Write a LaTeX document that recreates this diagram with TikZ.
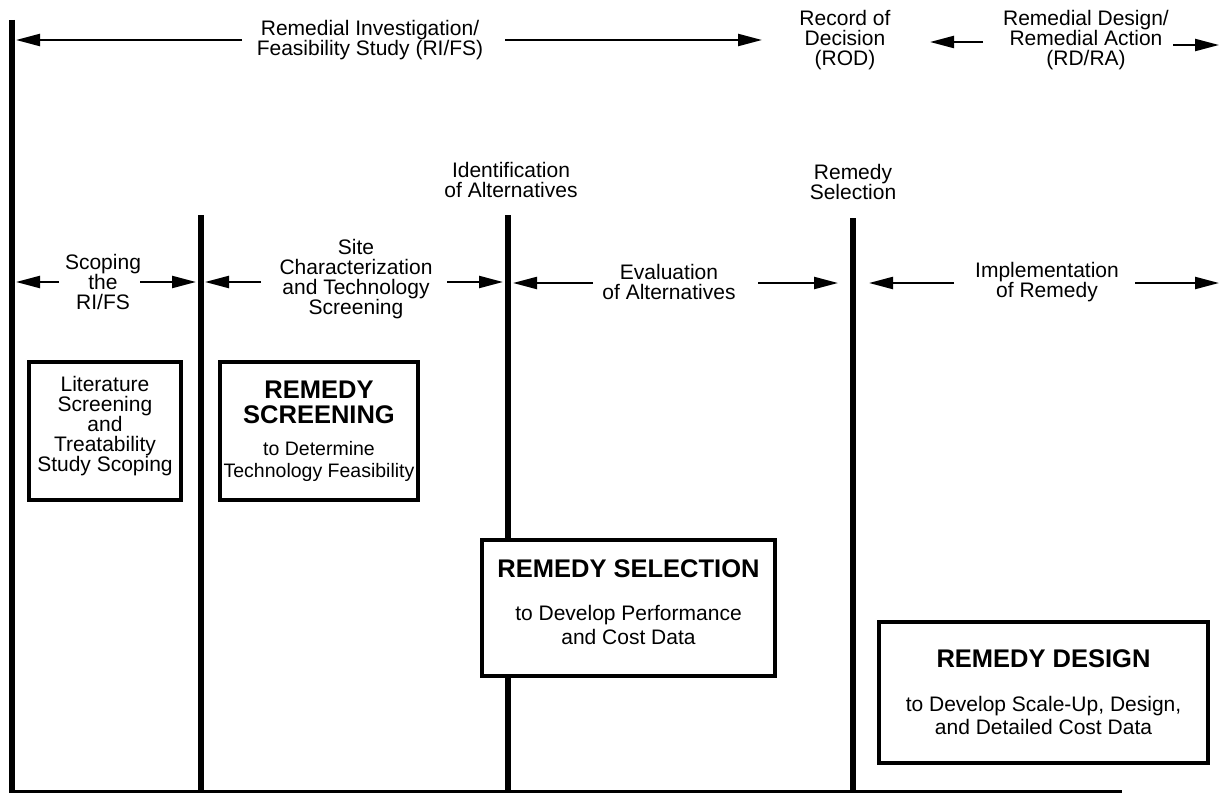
\documentclass[tikz,border=0pt]{standalone}
\usepackage{fontspec}
\setmainfont{Liberation Sans}
\usetikzlibrary{arrows.meta}
\tikzset{
  bar/.style={line width=6pt},
  baseline line/.style={line width=3pt},
  arr/.style={line width=2.2pt,-{Triangle[length=24pt,width=12pt]}},
  lbl/.style={align=center,inner sep=0pt,font=\fontsize{21}{20}\selectfont},
  stagebox/.style={draw,line width=4pt,fill=white,inner sep=0pt},
}
\newcommand{\ttl}{\fontsize{25.5}{20}\selectfont\bfseries}
\begin{document}
\begin{tikzpicture}[x=1pt,y=-1pt]
\useasboundingbox[fill=white] (0,0) rectangle (1220,797);

% vertical bars
\coordinate (b1t) at (12,20);   \coordinate (b1b) at (12,792);
\coordinate (b2t) at (201,215); \coordinate (b2b) at (201,792);
\coordinate (b3t) at (508,215); \coordinate (b3b) at (508,792);
\coordinate (b4t) at (853,218); \coordinate (b4b) at (853,792);
\coordinate (bl) at (9,791); \coordinate (br) at (1122,791);
\draw[bar] (b1t) -- (b1b);
\draw[bar] (b2t) -- (b2b);
\draw[bar] (b3t) -- (b3b);
\draw[bar] (b4t) -- (b4b);
\draw[baseline line] (bl) -- (br);

% top labels
\node[lbl] (rifs) at (370,40) {Remedial Investigation/\\Feasibility Study (RI/FS)};
\node[lbl] (rod) at (845,40) {Record of\\Decision\\(ROD)};
\node[lbl] (rdra) at (1086,40) {Remedial Design/\\Remedial Action\\(RD/RA)};
\node[lbl] (ida) at (511,180) {Identification\\of Alternatives};
\node[lbl] (rsel) at (853,182) {Remedy\\Selection};

% top arrows
\coordinate (t1) at (242,40);  \coordinate (h1) at (16,40);
\coordinate (t2) at (505,40);  \coordinate (h2) at (762,40);
\coordinate (t3) at (983,42);  \coordinate (h3) at (930,42);
\coordinate (t4) at (1173,45); \coordinate (h4) at (1219,45);
\draw[arr] (t1) -- (h1);
\draw[arr] (t2) -- (h2);
\draw[arr] (t3) -- (h3);
\draw[arr] (t4) -- (h4);

% middle labels
\node[lbl] (scope) at (103,282) {Scoping\\the\\RI/FS};
\node[lbl] (site) at (356,279) {Site\\Characterization\\and Technology\\Screening};
\node[lbl] (eval) at (669,282) {Evaluation\\of Alternatives};
\node[lbl] (impl) at (1047,282) {Implementation\\of Remedy};

% middle arrows
\coordinate (s1) at (59,282);   \coordinate (e1) at (16,282);
\coordinate (s2) at (140,282);  \coordinate (e2) at (196,282);
\coordinate (s3) at (261,282);  \coordinate (e3) at (205,282);
\coordinate (s4) at (447,282);  \coordinate (e4) at (503,282);
\coordinate (s5) at (593,283);  \coordinate (e5) at (513,283);
\coordinate (s6) at (758,283);  \coordinate (e6) at (838,283);
\coordinate (s7) at (954,283);  \coordinate (e7) at (869,283);
\coordinate (s8) at (1135,283); \coordinate (e8) at (1219,283);
\draw[arr] (s1) -- (e1);
\draw[arr] (s2) -- (e2);
\draw[arr] (s3) -- (e3);
\draw[arr] (s4) -- (e4);
\draw[arr] (s5) -- (e5);
\draw[arr] (s6) -- (e6);
\draw[arr] (s7) -- (e7);
\draw[arr] (s8) -- (e8);

% boxes
\node[stagebox,minimum width=152pt,minimum height=138pt] (lit) at (105,431) {};
\node[lbl] (litt) at (105,426)
  {Literature\\Screening\\and\\Treatability\\Study Scoping};

\node[stagebox,minimum width=198pt,minimum height=138pt] (scr) at (319,431) {};
\node[lbl] (scrt) at (319,431)
  {{\ttl REMEDY}\\[5pt]{\ttl SCREENING}\\[12pt]{\fontsize{19.5}{20}\selectfont to Determine}\\[2pt]{\fontsize{19.5}{20}\selectfont Technology Feasibility}};

\node[stagebox,minimum width=293pt,minimum height=136pt] (sel) at (628.5,608) {};
\node[lbl] (selt) at (628.5,602.5)
  {{\ttl REMEDY SELECTION}\\[23pt]to Develop Performance\\[4pt]and Cost Data};

\node[stagebox,minimum width=329pt,minimum height=141pt] (des) at (1043.5,692.5) {};
\node[lbl] (dest) at (1043.5,692)
  {{\ttl REMEDY DESIGN}\\[24pt]to Develop Scale-Up, Design,\\[3pt]and Detailed Cost Data};
\end{tikzpicture}
\end{document}
